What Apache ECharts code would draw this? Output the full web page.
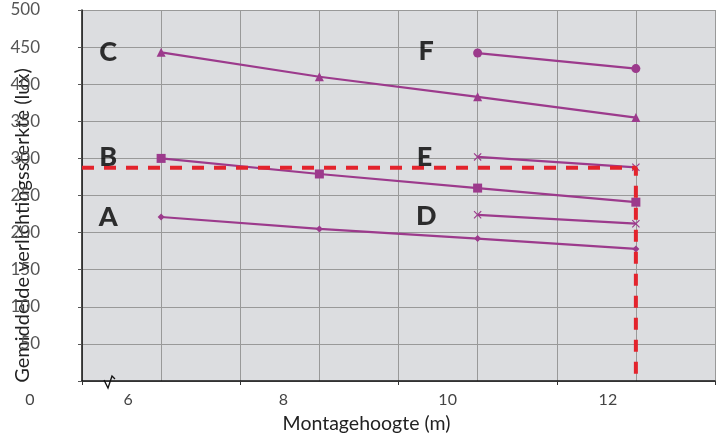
<!DOCTYPE html>
<html>
<head>
<meta charset="utf-8">
<script src="https://cdn.jsdelivr.net/npm/echarts@6/dist/echarts.min.js"></script>
<style>
html,body{margin:0;padding:0;background:#fff;}
#c{width:721px;height:439px;}
</style>
</head>
<body>
<div id="c"></div>
<script>
// ---- data ----
const heightsABC = [6, 8, 10, 12];
const seriesA = [221, 205, 192, 178];
const seriesB = [300, 279, 260, 241];
const seriesC = [443, 410, 383, 355];
const heightsDEF = [10, 12];
const seriesD = [224, 212];
const seriesE = [302, 288];
const seriesF = [442, 421];
const refHeight = 12;
const refLevel = 287.5;
const xTickLabels = {5: '0', 6: '6', 8: '8', 10: '10', 12: '12'};
const yTickLabels = [50, 100, 150, 200, 250, 300, 350, 400, 450, 500];
const letterNames = ['A', 'B', 'C', 'D', 'E', 'F'];
const letterX = [5.33, 5.33, 5.33, 9.35, 9.33, 9.35];
const letterY = [221, 301, 443, 222, 301, 445];

const purple = '#9c3a8c';
const FONT = 'Lato, "DejaVu Sans", sans-serif';

function pairs(xs, ys) { return xs.map((x, i) => [x, ys[i]]); }

const crossPath = 'path://M0,1L1,0L5,4L9,0L10,1L6,5L10,9L9,10L5,6L1,10L0,9L4,5Z';

function lineSeries(name, xs, ys, symbol, size) {
  return {
    name, type: 'line', xAxisIndex: 0, yAxisIndex: 0,
    data: pairs(xs, ys),
    symbol, symbolSize: size,
    lineStyle: {color: purple, width: 2.2},
    itemStyle: {color: purple},
    z: 3
  };
}

const chart = echarts.init(document.getElementById('c'), null, {renderer: 'canvas'});
chart.setOption({
  animation: false,
  textStyle: {fontFamily: FONT},
  grid: {left: 82, right: 6, top: 10, bottom: 58, backgroundColor: '#dcdde0', show: true, borderWidth: 0,
         containLabel: false, outerBoundsMode: 'none'},
  xAxis: [{
    type: 'value', min: 5, max: 13, interval: 1,
    name: 'Montagehoogte (m)', nameLocation: 'middle', nameGap: 33, nameMoveOverlap: false,
    nameTextStyle: {fontSize: 19.5, color: '#222', fontFamily: FONT, padding: [0, 64, 0, 0]},
    axisLine: {show: true, onZero: false, lineStyle: {color: '#111', width: 1.5}},
    axisTick: {show: false},
    splitLine: {show: true, lineStyle: {color: '#999', width: 1}},
    axisLabel: {
      margin: 11, fontSize: 16, color: '#444', fontFamily: FONT,
      showMaxLabel: false,
      formatter: v => {
        const t = xTickLabels[v];
        if (t === undefined) return '';
        return '{l' + v + '|' + t + '}';
      },
      rich: {
        l5: {padding: [0, 104, 0, 0], fontSize: 16, color: '#444', fontFamily: FONT},
        l6: {padding: [0, 66, 0, 0], fontSize: 16, color: '#444', fontFamily: FONT},
        l8: {padding: [0, 72, 0, 0], fontSize: 16, color: '#444', fontFamily: FONT},
        l10: {padding: [0, 60, 0, 0], fontSize: 16, color: '#444', fontFamily: FONT},
        l12: {padding: [0, 56, 0, 0], fontSize: 16, color: '#444', fontFamily: FONT}
      }
    }
  }, {
    type: 'value', min: 5, max: 13, interval: 2, position: 'bottom',
    axisLine: {show: false}, axisLabel: {show: false}, splitLine: {show: false},
    axisTick: {show: true, length: 4, lineStyle: {color: '#333', width: 1}}
  }],
  yAxis: {
    type: 'value', min: 0, max: 500, interval: 50,
    name: 'Gemiddelde verlichtingssterkte (lux)', nameLocation: 'middle', nameGap: 49, nameMoveOverlap: false,
    nameTextStyle: {fontSize: 20, color: '#222', fontFamily: FONT, padding: [0, 60, 0, 0]},
    axisLine: {show: true, lineStyle: {color: '#111', width: 1.5}},
    axisTick: {show: true, length: 4, lineStyle: {color: '#555'}},
    splitLine: {show: true, lineStyle: {color: '#999', width: 1}},
    axisLabel: {
      margin: 42, fontSize: 17, color: '#555', fontFamily: FONT,
      formatter: v => (yTickLabels.indexOf(v) >= 0 ? String(v) : '')
    }
  },
  series: [
    lineSeries('A', heightsABC, seriesA, 'diamond', 7),
    lineSeries('B', heightsABC, seriesB, 'rect', 9),
    lineSeries('C', heightsABC, seriesC, 'triangle', 9),
    lineSeries('D', heightsDEF, seriesD, crossPath, 8),
    lineSeries('E', heightsDEF, seriesE, crossPath, 8),
    lineSeries('F', heightsDEF, seriesF, 'circle', 9),
    {
      name: 'ref', type: 'line', symbol: 'none', z: 4,
      data: [[5, refLevel], [refHeight, refLevel], [refHeight, 0]],
      lineStyle: {color: '#e3232c', width: 4, type: [12, 10]}
    },
    {
      name: 'letters', type: 'scatter', symbolSize: 0, z: 5,
      data: letterNames.map((n, i) => ({name: n, value: [letterX[i], letterY[i]]})),
      label: {
        show: true, position: 'inside', formatter: p => p.name,
        fontSize: 27, fontWeight: 900, color: '#000', fontFamily: FONT
      }
    }
  ],
  graphic: [{
    type: 'polyline', silent: true, z: 10,
    shape: {points: [[104, 380], [108, 388], [112, 376], [115, 379]]},
    style: {stroke: '#111', lineWidth: 1.3, fill: null}
  }]
});
</script>
</body>
</html>
